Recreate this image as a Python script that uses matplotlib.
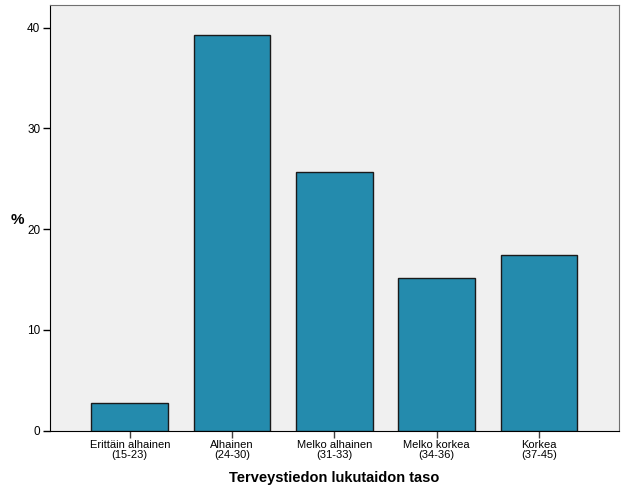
import matplotlib
matplotlib.use("Agg")
import matplotlib.pyplot as plt

categories = ["Erittäin alhainen\n(15-23)", "Alhainen\n(24-30)", "Melko alhainen\n(31-33)",
              "Melko korkea\n(34-36)", "Korkea\n(37-45)"]
values = [2.75, 39.25, 25.65, 15.15, 17.45]
yticks = [0, 10, 20, 30, 40]

plt.rcParams['font.family'] = ['Liberation Sans', 'DejaVu Sans']
fig = plt.figure(figsize=(6.26, 5.01), dpi=100)
W, H = 626, 501
ax = fig.add_axes([50/W, (H-430.7)/H, (618.7-50)/W, (430.7-5)/H])
ax.set_facecolor('#F0F0F0')
x = list(range(len(categories)))
ax.bar(x, values, width=0.75, color='#248BAD', edgecolor='#1a1a1a', linewidth=1.0, zorder=3)
ax.set_xlim(-0.78, 4.78)
ax.set_ylim(0, 42.25)
ax.set_yticks(yticks)
ax.set_yticklabels([str(t) for t in yticks], fontsize=8.5)
ax.set_xticks(x)
ax.set_xticklabels(categories, fontsize=8, linespacing=0.9)
ax.tick_params(axis='y', direction='out', length=5, width=1, color='black', pad=2)
ax.tick_params(axis='x', direction='out', length=5, width=1, color='#404040', pad=2)
for s in ['top', 'right']:
    ax.spines[s].set_color('#707070')
for s in ['left', 'bottom']:
    ax.spines[s].set_color('black')
ax.set_xlabel('Terveystiedon lukutaidon taso', fontsize=10.5, fontweight='bold', labelpad=8)
fig.text(17/W, 1-220/H, '%', fontsize=11, fontweight='bold', ha='center', va='center')
fig.savefig('out.png', dpi=100)
